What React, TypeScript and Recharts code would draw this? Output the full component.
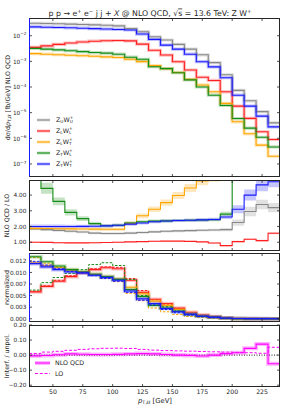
import React from 'react';
import { ComposedChart, Line, Area, XAxis, YAxis, ReferenceLine } from 'recharts';

const FONT = 'DejaVu Sans, Verdana, sans-serif';
const INK = '#262626';

// lower bin edges in GeV; the last bin ends at 240
const binLow = [30, 40, 50, 60, 70, 80, 90, 100, 110, 120, 130, 140, 150, 160, 170, 180, 190, 200, 210, 220, 230];
const binHigh = 240;
const xTicks = [50, 75, 100, 125, 150, 175, 200, 225];

// top panel: dσ/dpT [fb/GeV] at NLO QCD
const xsUU = [0.0305, 0.03, 0.0292, 0.0283, 0.0275, 0.0265, 0.0255, 0.0242, 0.019, 0.0143, 0.0091, 0.0068, 0.0046, 0.003, 0.0018, 0.00089, 0.0003, 7.4e-5, 2.9e-5, 1.1e-5, 4.0e-6];
const xsLL = [0.0035, 0.004, 0.0046, 0.0052, 0.0057, 0.0061, 0.0064, 0.0065, 0.0063, 0.0047, 0.0027, 0.00176, 0.00097, 0.00046, 0.00024, 0.00018, 6.5e-5, 1.8e-5, 6.0e-6, 1.8e-6, 9.0e-7];
const xsLT = [0.002, 0.0019, 0.00182, 0.00174, 0.00166, 0.00158, 0.0015, 0.00142, 0.0012, 0.00098, 0.00068, 0.00052, 0.00037, 0.0002, 0.00012, 6.5e-5, 2.3e-5, 4.4e-6, 1.5e-6, 5.4e-7, 2.0e-7];
const xsTL = [0.0032, 0.003, 0.0028, 0.0026, 0.0024, 0.0022, 0.0021, 0.0019, 0.00145, 0.0012, 0.00062, 0.00052, 0.00036, 0.00019, 0.0001, 4.8e-5, 1.9e-5, 5.9e-6, 2.5e-6, 1.1e-6, 4.6e-7];
const xsTT = [0.022, 0.0215, 0.021, 0.0203, 0.0196, 0.0189, 0.0182, 0.0175, 0.0167, 0.0116, 0.0072, 0.0043, 0.003, 0.0019, 0.00097, 0.00061, 0.00023, 4.8e-5, 1.8e-5, 7.3e-6, 2.8e-6];

// ratio NLO QCD / LO and half width of the scale band
const kUU = [1.84, 1.8, 1.75, 1.7, 1.65, 1.58, 1.55, 1.55, 1.58, 1.62, 1.66, 1.7, 1.72, 1.74, 1.76, 1.78, 1.8, 2.25, 2.95, 3.4, 3.2];
const kLL = [1.0, 0.99, 0.97, 0.96, 0.96, 0.97, 0.98, 1.0, 1.02, 1.04, 1.06, 1.07, 1.07, 1.05, 1.02, 0.95, 0.78, 1.04, 1.19, 1.1, 1.57];
const kLT = [1.88, 1.87, 1.86, 1.85, 1.84, 1.83, 1.82, 1.82, 2.2, 2.68, 3.1, 3.52, 3.97, 4.45, 4.9, 5.15, 5.6, 6.0, 6.3, 6.6, 7.0];
const kTL = [5.6, 4.43, 3.6, 2.9, 2.5, 2.18, 2.05, 2.08, 2.22, 2.3, 2.34, 2.36, 2.38, 2.4, 2.41, 2.43, 2.79, 6.0, 6.5, 7.0, 7.5];
const kTT = [2.0, 2.0, 2.0, 2.0, 2.01, 2.02, 2.04, 2.08, 2.15, 2.22, 2.3, 2.35, 2.38, 2.4, 2.42, 2.45, 2.6, 3.1, 4.0, 4.65, 4.85];
const kBandUU = [0.08, 0.08, 0.08, 0.08, 0.08, 0.08, 0.08, 0.08, 0.08, 0.08, 0.08, 0.08, 0.08, 0.08, 0.08, 0.08, 0.1, 0.2, 0.3, 0.3, 0.3];
const kBandLL = [0.03, 0.03, 0.03, 0.03, 0.03, 0.03, 0.03, 0.03, 0.03, 0.03, 0.03, 0.03, 0.03, 0.03, 0.03, 0.03, 0.04, 0.05, 0.05, 0.05, 0.06];
const kBandLT = [0.1, 0.1, 0.1, 0.1, 0.1, 0.1, 0.1, 0.1, 0.12, 0.15, 0.18, 0.2, 0.22, 0.25, 0.28, 0.3, 0.3, 0.3, 0.3, 0.3, 0.3];
const kBandTL = [0.45, 0.35, 0.25, 0.2, 0.15, 0.12, 0.1, 0.1, 0.1, 0.1, 0.1, 0.1, 0.1, 0.1, 0.1, 0.1, 0.15, 0.3, 0.3, 0.3, 0.3];
const kBandTT = [0.12, 0.12, 0.12, 0.11, 0.1, 0.1, 0.1, 0.1, 0.1, 0.1, 0.1, 0.1, 0.1, 0.1, 0.1, 0.1, 0.12, 0.25, 0.35, 0.4, 0.35];

// normalized shapes, NLO (solid) and LO (dashed)
const nLLnlo = [0.0058, 0.007, 0.0081, 0.0091, 0.0099, 0.0106, 0.011, 0.0108, 0.0083, 0.0057, 0.0042, 0.0033, 0.0023, 0.0014, 0.0008, 0.0005, 0.0002, 0.00006, 0.00003, 0.00001, 0.00001];
const nLLlo = [0.0059, 0.0071, 0.0083, 0.0093, 0.0101, 0.0108, 0.0112, 0.0111, 0.0087, 0.0061, 0.0041, 0.003, 0.0021, 0.0012, 0.0007, 0.0004, 0.0001, 0.00005, 0.00002, 0.00001, 0.00001];
const nLTnlo = [0.0121, 0.0115, 0.011, 0.0105, 0.0101, 0.0096, 0.0091, 0.0086, 0.0068, 0.0054, 0.0038, 0.0029, 0.002, 0.0012, 0.0007, 0.0004, 0.00015, 0.00003, 0.00001, 0, 0];
const nLTlo = [0.0132, 0.012, 0.0112, 0.0106, 0.0101, 0.0095, 0.0088, 0.008, 0.0055, 0.0039, 0.0023, 0.0015, 0.0009, 0.0005, 0.0003, 0.0001, 0.00005, 0.00001, 0, 0, 0];
const nTLnlo = [0.0134, 0.0123, 0.0114, 0.0106, 0.0101, 0.0096, 0.0091, 0.0085, 0.0063, 0.0048, 0.0029, 0.0023, 0.0016, 0.0009, 0.0005, 0.0003, 0.0001, 0.00003, 0.00001, 0, 0];
const nTLlo = [0.0062, 0.0078, 0.0089, 0.0098, 0.0106, 0.0117, 0.0121, 0.0115, 0.0085, 0.005, 0.0032, 0.0026, 0.0017, 0.001, 0.0006, 0.0003, 0.0001, 0.00003, 0.00001, 0, 0];
const nTTnlo = [0.0119, 0.0112, 0.0106, 0.0101, 0.0099, 0.0094, 0.0089, 0.0083, 0.006, 0.0043, 0.0033, 0.0022, 0.0015, 0.001, 0.0006, 0.00035, 0.00015, 0.00005, 0.00003, 0.00002, 0.00001];
const nTTlo = [0.0124, 0.0116, 0.0108, 0.0102, 0.0099, 0.0093, 0.0087, 0.0081, 0.0057, 0.004, 0.003, 0.002, 0.0013, 0.0008, 0.0005, 0.0003, 0.0001, 0.00004, 0.00002, 0.00001, 0.00001];

// interference / unpolarized
const interfNLO = [-0.005, -0.003, 0.002, 0.008, 0.006, 0.004, 0.004, 0.005, 0.008, 0.01, 0.008, 0.004, 0.0, -0.002, -0.006, 0.0, 0.01, 0.016, 0.045, 0.073, -0.057];
const interfLO = [0.011, 0.02, 0.025, 0.032, 0.038, 0.042, 0.045, 0.046, 0.044, 0.038, 0.033, 0.03, 0.028, 0.026, 0.024, 0.022, 0.02, 0.018, 0.016, 0.012, 0.052];

const COLORS: Record<string, string> = {
  UU: '#888888',
  LL: '#ff1f1f',
  LT: '#ffa500',
  TL: '#158c15',
  TT: '#1a1aff',
};
const MAGENTA = '#ff00ff';

const CHART_W = 293;
const PLOT_LEFT = 29;
const PLOT_W = 251;
const PAD = 5; // room above each plot so edge tick labels are not clipped
const P1 = { top: 18, h: 159 };
const P2 = { top: 180, h: 71 };
const P3 = { top: 253, h: 69 };
const P4 = { top: 325, h: 62 };

// one row per bin edge, the last row repeats the last bin so the step closes at 240
function stepRows(cols: Record<string, any[]>) {
  const rows = binLow.map((x, i) => {
    const r: Record<string, any> = { x };
    for (const k in cols) r[k] = cols[k][i];
    return r;
  });
  return [...rows, { ...rows[rows.length - 1], x: binHigh }];
}

const band = (v: number[], w: number[]) => v.map((y, i) => [y - w[i], y + w[i]]);

const rows1 = stepRows({ UU: xsUU, LL: xsLL, LT: xsLT, TL: xsTL, TT: xsTT });
const rows2 = stepRows({
  UU: kUU, LL: kLL, LT: kLT, TL: kTL, TT: kTT,
  bUU: band(kUU, kBandUU), bLL: band(kLL, kBandLL), bLT: band(kLT, kBandLT),
  bTL: band(kTL, kBandTL), bTT: band(kTT, kBandTT),
});
const rows3 = stepRows({
  LLn: nLLnlo, LLl: nLLlo, LTn: nLTnlo, LTl: nLTlo,
  TLn: nTLnlo, TLl: nTLlo, TTn: nTTnlo, TTl: nTTlo,
});
const rows4 = stepRows({ nlo: interfNLO, lo: interfLO });

const makeXTick = (panelH: number, labels: boolean) => (props: any) => {
  const { x, y, payload } = props;
  return (
    <g>
      <line x1={x} x2={x} y1={y} y2={y - 3} stroke={INK} strokeWidth={0.8} />
      <line x1={x} x2={x} y1={y - panelH} y2={y - panelH + 3} stroke={INK} strokeWidth={0.8} />
      {labels && (
        <text x={x} y={y + 6.8} textAnchor="middle" fontSize={6.2} fontFamily={FONT} fill={INK}>
          {payload.value}
        </text>
      )}
    </g>
  );
};

const makeYTick = (fmt: (v: number) => React.ReactNode) => (props: any) => {
  const { x, y, payload } = props;
  return (
    <g>
      <line x1={x} x2={x + 3} y1={y} y2={y} stroke={INK} strokeWidth={0.8} />
      <line x1={x + PLOT_W} x2={x + PLOT_W - 3} y1={y} y2={y} stroke={INK} strokeWidth={0.8} />
      <text x={x - 2.5} y={y + 2.2} textAnchor="end" fontSize={5.8} fontFamily={FONT} fill={INK}>
        {fmt(payload.value)}
      </text>
    </g>
  );
};

const fmtPow = (v: number) => {
  const e = Math.round(Math.log10(v));
  return (
    <>
      10<tspan dy={-2.6} fontSize={4.2}>{'−' + Math.abs(e)}</tspan>
    </>
  );
};
const normLabels: Record<string, string> = {
  '0': '0.000', '0.0025': '0.003', '0.005': '0.005', '0.0075': '0.007', '0.01': '0.010', '0.0125': '0.012',
};
const fmtNorm = (v: number) => normLabels[String(v)] ?? v.toFixed(3);
const fmtRatio = (v: number) => v.toFixed(2);
const fmtInterf = (v: number) => (v < 0 ? '−' + Math.abs(v).toFixed(2) : v.toFixed(2));

const chartMargin = { top: PAD, right: CHART_W - PLOT_LEFT - PLOT_W, bottom: 0, left: 0 };

function xAxis(panelH: number, labels: boolean) {
  return (
    <XAxis
      dataKey="x"
      type="number"
      domain={[30, binHigh]}
      ticks={xTicks}
      interval={0}
      height={labels ? 12 : 1}
      tickSize={0}
      tickMargin={0}
      axisLine={false}
      tickLine={false}
      tick={makeXTick(panelH, labels)}
      allowDataOverflow
    />
  );
}

function Frame({ top, h, left }: { top: number; h: number; left?: string }) {
  return (
    <div
      style={{
        position: 'absolute',
        left: PLOT_LEFT,
        top,
        width: PLOT_W,
        height: h,
        boxSizing: 'border-box',
        border: `1px solid ${INK}`,
        borderLeft: `1px solid ${left || INK}`,
        pointerEvents: 'none',
      }}
    />
  );
}

function ZW({ x, y, z, w }: { x: number; y: number; z: string; w: string }) {
  const subW = (s: string) => (s === 'U' ? 3.2 : s === 'T' ? 2.7 : 2.5);
  return (
    <text x={x} y={y} fontSize={6.3} fontFamily={FONT} fill={INK}>
      Z<tspan fontSize={4.3} dy={1.4}>{z}</tspan>
      <tspan dy={-1.4}>W</tspan>
      <tspan fontSize={4.3} dy={1.4}>{w}</tspan>
      <tspan fontSize={4.3} dx={-subW(w)} dy={-4.4}>+</tspan>
    </text>
  );
}

const legend1 = [
  { key: 'UU', z: 'U', w: 'U' },
  { key: 'LL', z: 'L', w: 'L' },
  { key: 'LT', z: 'L', w: 'T' },
  { key: 'TL', z: 'T', w: 'L' },
  { key: 'TT', z: 'T', w: 'T' },
];

export default function App() {
  const keys = ['UU', 'LL', 'LT', 'TL', 'TT'];
  const normKeys = ['LL', 'LT', 'TL', 'TT'];
  return (
    <div style={{ position: 'absolute', left: 0, top: 0, width: 293, height: 410, background: '#fff', overflow: 'hidden' }}>
      {/* absolute cross sections */}
      <div style={{ position: 'absolute', left: 0, top: P1.top - PAD }}>
        <ComposedChart width={CHART_W} height={P1.h + 1 + PAD} data={rows1} margin={chartMargin}>
          {xAxis(P1.h, false)}
          <YAxis
            type="number"
            scale="log"
            domain={[3.1e-8, 0.049]}
            allowDataOverflow
            ticks={[1e-7, 1e-6, 1e-5, 1e-4, 1e-3, 1e-2]}
            interval={0}
            width={PLOT_LEFT}
            tickSize={0}
            tickMargin={0}
            axisLine={false}
            tickLine={false}
            tick={makeYTick(fmtPow)}
          />
          {keys.map((k) => (
            <Line key={k + 'band'} dataKey={k} type="stepAfter" stroke={COLORS[k]} strokeOpacity={0.28}
              strokeWidth={3.2} dot={false} isAnimationActive={false} />
          ))}
          {keys.map((k) => (
            <Line key={k} dataKey={k} type="stepAfter" stroke={COLORS[k]} strokeWidth={1.1}
              dot={false} isAnimationActive={false} />
          ))}
        </ComposedChart>
      </div>

      {/* NLO / LO ratio */}
      <div style={{ position: 'absolute', left: 0, top: P2.top - PAD }}>
        <ComposedChart width={CHART_W} height={P2.h + 1 + PAD} data={rows2} margin={chartMargin}>
          {xAxis(P2.h, false)}
          <YAxis
            type="number"
            domain={[0.44, 4.96]}
            allowDataOverflow
            ticks={[1, 2, 3, 4]}
            interval={0}
            width={PLOT_LEFT}
            tickSize={0}
            tickMargin={0}
            axisLine={false}
            tickLine={false}
            tick={makeYTick(fmtRatio)}
          />
          {keys.flatMap((k) => [
            <Area key={'b' + k} dataKey={'b' + k} type="stepAfter" fill={COLORS[k]} fillOpacity={0.25}
              stroke="none" isAnimationActive={false} />,
            <Line key={k} dataKey={k} type="stepAfter" stroke={COLORS[k]} strokeWidth={1.1}
              dot={false} isAnimationActive={false} />,
          ])}
        </ComposedChart>
      </div>

      {/* normalized */}
      <div style={{ position: 'absolute', left: 0, top: P3.top - PAD }}>
        <ComposedChart width={CHART_W} height={P3.h + 1 + PAD} data={rows3} margin={chartMargin}>
          {xAxis(P3.h, false)}
          <YAxis
            type="number"
            domain={[-0.0007, 0.0142]}
            allowDataOverflow
            ticks={[0, 0.0025, 0.005, 0.0075, 0.01, 0.0125]}
            interval={0}
            width={PLOT_LEFT}
            tickSize={0}
            tickMargin={0}
            axisLine={false}
            tickLine={false}
            tick={makeYTick(fmtNorm)}
          />
          {normKeys.flatMap((k) => [
            <Line key={k + 'band'} dataKey={k + 'n'} type="stepAfter" stroke={COLORS[k]} strokeOpacity={0.28}
              strokeWidth={3.6} dot={false} isAnimationActive={false} />,
            <Line key={k + 'n'} dataKey={k + 'n'} type="stepAfter" stroke={COLORS[k]} strokeWidth={1.1}
              dot={false} isAnimationActive={false} />,
            <Line key={k + 'l'} dataKey={k + 'l'} type="stepAfter" stroke={COLORS[k]} strokeWidth={1}
              strokeDasharray="2.5 1.5" dot={false} isAnimationActive={false} />,
          ])}
        </ComposedChart>
      </div>

      {/* interference */}
      <div style={{ position: 'absolute', left: 0, top: P4.top - PAD }}>
        <ComposedChart width={CHART_W} height={P4.h + 12 + PAD} data={rows4} margin={chartMargin}>
          {xAxis(P4.h, true)}
          <YAxis
            type="number"
            domain={[-0.212, 0.2]}
            allowDataOverflow
            ticks={[-0.2, -0.1, 0, 0.1, 0.2]}
            interval={0}
            width={PLOT_LEFT}
            tickSize={0}
            tickMargin={0}
            axisLine={false}
            tickLine={false}
            tick={makeYTick(fmtInterf)}
          />
          <ReferenceLine y={0} stroke="#000" strokeWidth={0.9} strokeDasharray="1 1.5" />
          <Line dataKey="nlo" type="stepAfter" stroke={MAGENTA} strokeOpacity={0.3} strokeWidth={4}
            dot={false} isAnimationActive={false} />
          <Line dataKey="nlo" type="stepAfter" stroke={MAGENTA} strokeWidth={1.1} dot={false} isAnimationActive={false} />
          <Line dataKey="lo" type="stepAfter" stroke={MAGENTA} strokeWidth={1} strokeDasharray="3 1.8"
            dot={false} isAnimationActive={false} />
        </ComposedChart>
      </div>

      <Frame top={P1.top} h={P1.h} left={COLORS.TT} />
      <Frame top={P2.top} h={P2.h} />
      <Frame top={P3.top} h={P3.h} left={COLORS.TT} />
      <Frame top={P4.top} h={P4.h} />

      <svg width={293} height={410} style={{ position: 'absolute', left: 0, top: 0, pointerEvents: 'none' }}
        fontFamily={FONT} fill={INK}>
        {/* title */}
        <text x={150} y={15.5} textAnchor="middle" fontSize={7.8}>
          p p → e<tspan dy={-3} fontSize={5.2}>+</tspan>
          <tspan dy={3}> e</tspan><tspan dy={-3} fontSize={5.2}>−</tspan>
          <tspan dy={3}> j j + </tspan><tspan fontStyle="italic">X</tspan>
          <tspan> @ NLO QCD, √</tspan><tspan textDecoration="overline">s</tspan>
          <tspan> = 13.6 TeV: Z W</tspan><tspan dy={-3} fontSize={5.2}>+</tspan>
        </text>

        {/* y axis titles */}
        <text transform={`translate(9.5, ${P1.top + P1.h / 2}) rotate(-90)`} textAnchor="middle" fontSize={6.3}>
          dσ/d<tspan fontStyle="italic">p</tspan><tspan fontSize={4.4} dy={1.5}>T,ℓℓ</tspan>
          <tspan dy={-1.5}>  [fb/GeV] NLO QCD</tspan>
        </text>
        <text transform={`translate(9, ${P2.top + P2.h / 2}) rotate(-90)`} textAnchor="middle" fontSize={6.3}>
          NLO QCD / LO
        </text>
        <text transform={`translate(9, ${P3.top + P3.h / 2}) rotate(-90)`} textAnchor="middle" fontSize={6.3}>
          normalized
        </text>
        <text transform={`translate(9, ${P4.top + P4.h / 2}) rotate(-90)`} textAnchor="middle" fontSize={6.3}>
          Interf. / unpol.
        </text>

        {/* x axis title */}
        <text x={155} y={402.5} textAnchor="middle" fontSize={6.8}>
          <tspan fontStyle="italic">p</tspan><tspan fontSize={4.6} dy={1.6}>T,ℓℓ</tspan>
          <tspan dy={-1.6}> [GeV]</tspan>
        </text>

        {/* legend, top panel */}
        {legend1.map((e, i) => {
          const y = 120 + i * 11;
          return (
            <g key={e.key}>
              <line x1={37} x2={50} y1={y} y2={y} stroke={COLORS[e.key]} strokeOpacity={0.28} strokeWidth={3} />
              <line x1={37} x2={50} y1={y} y2={y} stroke={COLORS[e.key]} strokeWidth={1.1} />
              <ZW x={56} y={y + 2} z={e.z} w={e.w} />
            </g>
          );
        })}

        {/* legend, interference panel */}
        <line x1={35} x2={50} y1={363} y2={363} stroke={MAGENTA} strokeOpacity={0.3} strokeWidth={4} />
        <line x1={35} x2={50} y1={363} y2={363} stroke={MAGENTA} strokeWidth={1.1} />
        <text x={55} y={365.3} fontSize={6.3}>NLO QCD</text>
        <line x1={35} x2={50} y1={373.5} y2={373.5} stroke={MAGENTA} strokeWidth={1} strokeDasharray="3 1.8" />
        <text x={55} y={375.8} fontSize={6.3}>LO</text>
      </svg>
    </div>
  );
}
